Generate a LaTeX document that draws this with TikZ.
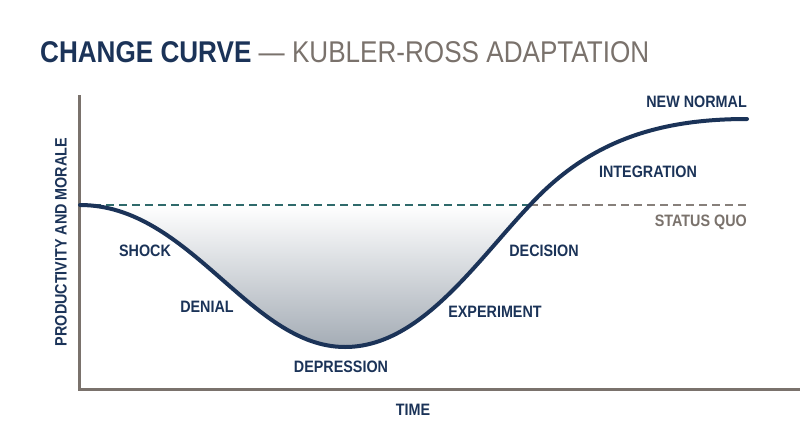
\documentclass[tikz,border=0pt]{standalone}
\usepackage{fontspec}
\setmainfont{Liberation Sans}
\newfontfamily\condsans[FakeStretch=0.87]{Liberation Sans}
\definecolor{navy}{HTML}{1B3358}
\definecolor{warmgray}{HTML}{7A726C}
\definecolor{quoteal}{HTML}{2F6A6B}
\definecolor{pitbottom}{HTML}{A4ACB5}
\tikzset{
  stage/.style={font=\condsans\bfseries\fontsize{16.5}{18}\selectfont, text=navy, inner sep=0pt},
  axisline/.style={draw=warmgray, line width=3pt, line join=miter},
  quoline/.style={line width=2pt, dash pattern=on 8pt off 5pt},
  curveline/.style={draw=navy, line width=4pt, line cap=round}
}
\begin{document}
\begin{tikzpicture}[x=1pt,y=-1pt]
\useasboundingbox[fill=white] (0,0) rectangle (800,447);

% title
\node[anchor=base west, inner sep=0pt, font=\condsans\fontsize{30}{34}\selectfont] (title) at (40,62)
  {\textcolor{navy}{\bfseries CHANGE CURVE} \textcolor{warmgray}{— KUBLER-ROSS ADAPTATION}};

% dip below the status quo
\shade[top color=white, bottom color=pitbottom]
  (80,205) .. controls (190,205) and (250,347) .. (345,347)
  .. controls (420,347) and (475,263) .. (530,205) -- cycle;

% status quo
\coordinate (quostart) at (80,205);
\coordinate (quocross) at (530,205);
\coordinate (quoend) at (747,205);
\draw[quoline, quoteal] (quostart) -- (quocross);
\draw[quoline, warmgray!90] (quocross) -- (quoend);

% axes
\draw[axisline] (79,95) -- (79,389) -- (800,389);

% the curve
\coordinate (start) at (80,205);
\coordinate (bottom) at (345,347);
\coordinate (top) at (747,119);
\draw[curveline] (start) .. controls (190,205) and (250,347) .. (bottom)
  .. controls (420,347) and (475,263) .. (quocross)
  .. controls (590,140) and (660,119) .. (top);

% stages
\node[stage] (shock) at (145,251) {SHOCK};
\node[stage] (denial) at (207,307) {DENIAL};
\node[stage] (depression) at (341,367) {DEPRESSION};
\node[stage] (experiment) at (495,312) {EXPERIMENT};
\node[stage] (decision) at (544,251) {DECISION};
\node[stage] (integration) at (648,172) {INTEGRATION};
\node[stage, anchor=east] (newnormal) at (747,102) {NEW NORMAL};
\node[stage, anchor=east, text=warmgray] (statusquo) at (747,222) {STATUS QUO};

% axis labels
\node[stage] (time) at (413,410) {TIME};
\node[stage, rotate=90] (morale) at (61,242) {PRODUCTIVITY AND MORALE};
\end{tikzpicture}
\end{document}
